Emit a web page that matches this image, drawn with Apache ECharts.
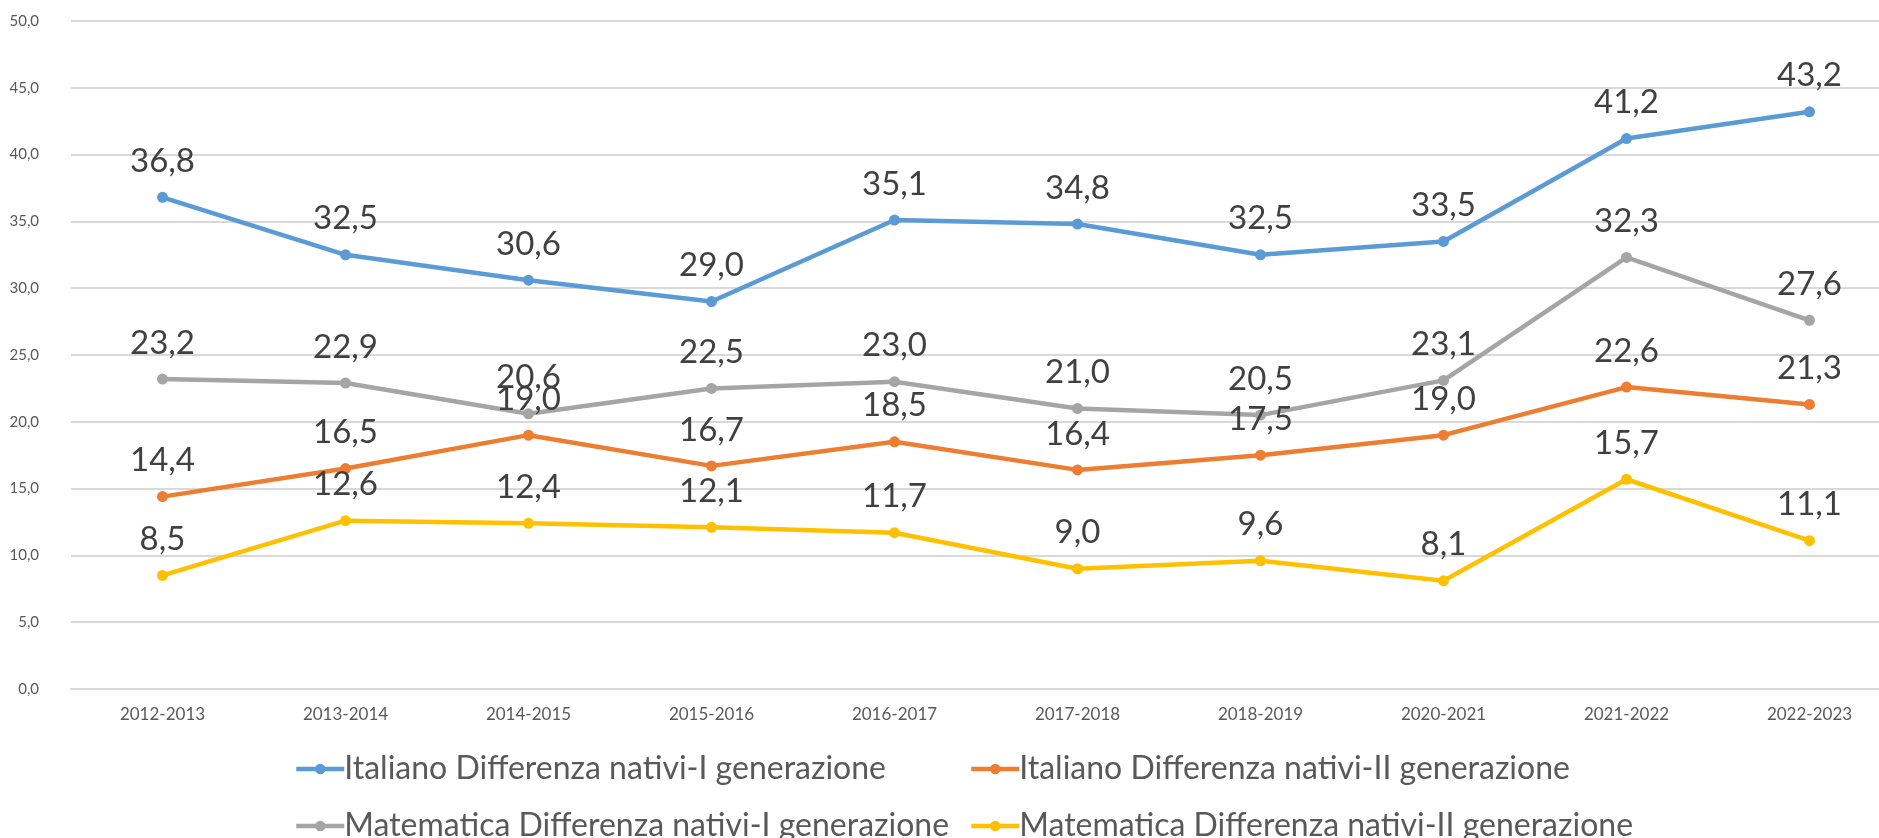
<!DOCTYPE html>
<html>
<head>
<meta charset="utf-8">
<script src="https://cdn.jsdelivr.net/npm/echarts@6/dist/echarts.min.js"></script>
<style>
  html, body { margin: 0; padding: 0; background: #fff; overflow: hidden; }
  #main { width: 1901px; height: 838px; }
</style>
</head>
<body>
<div id="main"></div>
<script>
// data
const anni = ["2012-2013", "2013-2014", "2014-2015", "2015-2016", "2016-2017", "2017-2018", "2018-2019", "2020-2021", "2021-2022", "2022-2023"]
const italianoI = [36.8, 32.5, 30.6, 29.0, 35.1, 34.8, 32.5, 33.5, 41.2, 43.2]
const italianoII = [14.4, 16.5, 19.0, 16.7, 18.5, 16.4, 17.5, 19.0, 22.6, 21.3]
const matematicaI = [23.2, 22.9, 20.6, 22.5, 23.0, 21.0, 20.5, 23.1, 32.3, 27.6]
const matematicaII = [8.5, 12.6, 12.4, 12.1, 11.7, 9.0, 9.6, 8.1, 15.7, 11.1]
const nomi = [
  "Italiano Differenza nativi-I generazione",
  "Italiano Differenza nativi-II generazione",
  "Matematica Differenza nativi-I generazione",
  "Matematica Differenza nativi-II generazione"
]

const font = "Lato, 'Open Sans', sans-serif"
const virgola = (v) => v.toFixed(1).replace(".", ",")

const serie = (name, data, color) => ({
  name: name,
  type: "line",
  data: data,
  symbol: "circle",
  symbolSize: 11,
  color: color,
  lineStyle: { width: 4.5, color: color },
  itemStyle: { color: color },
  label: {
    show: true,
    position: "top",
    distance: 14,
    fontSize: 33,
    fontFamily: font,
    color: "#404040",
    formatter: (p) => virgola(p.value)
  },
  emphasis: { disabled: true }
})

// one legend per entry, laid out as two columns
const voce = (name, left, top) => ({
  data: [name],
  left: left,
  top: top,
  itemWidth: 48,
  itemHeight: 13,
  lineStyle: { width: 4.5 },
  textStyle: { fontSize: 32, fontFamily: font, color: "#595959", padding: [0, 0, 0, -5] }
})

const chart = echarts.init(document.getElementById("main"))
const option = {
  animation: false,
  grid: { left: 71, top: 21, right: 0, bottom: 149 },
  legend: [
    voce(nomi[0], 289, 748),
    voce(nomi[1], 964, 748),
    voce(nomi[2], 289, 805),
    voce(nomi[3], 964, 805)
  ],
  xAxis: {
    type: "category",
    data: anni,
    axisTick: { show: false },
    axisLine: { lineStyle: { color: "#d9d9d9", width: 2 } },
    axisLabel: { fontSize: 17, fontFamily: font, color: "#595959", margin: 17 }
  },
  yAxis: {
    type: "value",
    min: 0,
    max: 50,
    interval: 5,
    axisLabel: { fontSize: 15, fontFamily: font, color: "#595959", margin: 32, formatter: virgola },
    splitLine: { lineStyle: { color: "#d9d9d9", width: 2 } }
  },
  series: [
    serie(nomi[0], italianoI, "#5B9BD5"),
    serie(nomi[1], italianoII, "#ED7D31"),
    serie(nomi[2], matematicaI, "#A5A5A5"),
    serie(nomi[3], matematicaII, "#FFC000")
  ]
}
chart.setOption(option)
</script>
</body>
</html>
